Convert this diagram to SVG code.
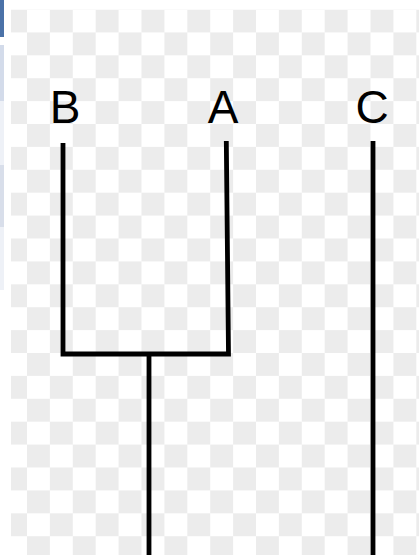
<svg xmlns="http://www.w3.org/2000/svg" width="419" height="555" viewBox="0 0 419 555">
  <defs>
    <pattern id="checker" patternUnits="userSpaceOnUse" x="4.1" y="9.5" width="45.8" height="45.8">
      <rect x="0" y="0" width="45.8" height="45.8" fill="#ffffff"/>
      <rect x="0" y="0" width="22.9" height="22.9" fill="#ececec"/>
      <rect x="22.9" y="22.9" width="22.9" height="22.9" fill="#ececec"/>
    </pattern>
    <style>
      .lbl { font-family: "Liberation Sans", Arial, sans-serif; font-size: 46px; fill: #000000; text-anchor: middle; }
      .edge { fill: none; stroke: #000000; stroke-width: 4.8; stroke-linejoin: miter; stroke-linecap: butt; }
    </style>
  </defs>

  <rect x="0" y="0" width="419" height="555" fill="#ffffff"/>
  <rect x="11" y="9.5" width="408" height="545.5" fill="url(#checker)"/>

  <!-- left edge strip -->
  <rect x="0" y="0" width="4" height="37" fill="#4b72a8"/>
  <rect x="0" y="45" width="4" height="56" fill="#d3dbea"/>
  <rect x="0" y="101" width="4" height="64" fill="#eef1f7"/>
  <rect x="0" y="165" width="4" height="62" fill="#d8deea"/>
  <rect x="0" y="227" width="4" height="63" fill="#eef1f7"/>

  <g id="connectors">
    <path class="edge" d="M63,143 V354 H228.5 L226.3,141"/>
    <path class="edge" d="M149,354 V555"/>
    <path class="edge" d="M373,141 V555"/>
  </g>

  <g id="node-B">
    <text class="lbl" x="65" y="123">B</text>
  </g>
  <g id="node-A">
    <text class="lbl" x="223" y="123">A</text>
  </g>
  <g id="node-C">
    <text class="lbl" x="372" y="123">C</text>
  </g>
</svg>
